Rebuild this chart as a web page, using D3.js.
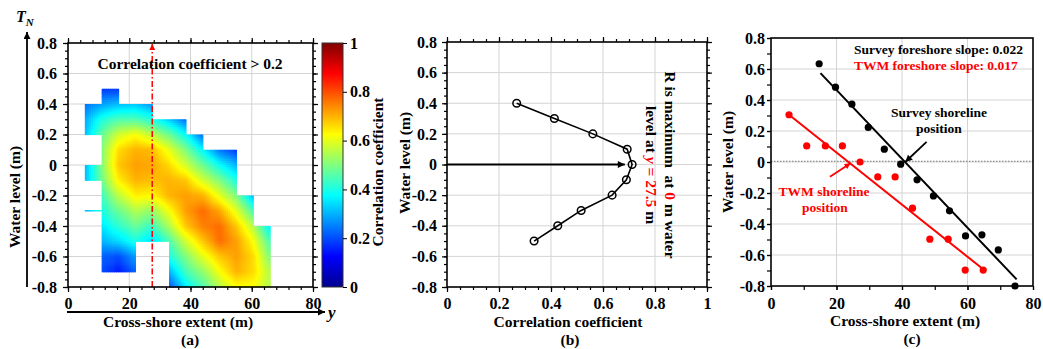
<!DOCTYPE html>
<html><head><meta charset="utf-8">
<script src="https://cdn.jsdelivr.net/npm/d3@7"></script>
<style>
body{margin:0;background:#fff;}
svg{display:block;font-family:"Liberation Serif","Times New Roman",serif;font-weight:bold;}
</style></head><body>
<svg id="chart" width="1043" height="349"></svg>
<script>
// ---------------- DATA ----------------
// (a) correlation map: node positions and values (null = no data)
const gridX = [5.5, 11, 16.5, 22, 27.5, 33, 38.5, 44, 49.5, 55, 60.5, 66];
const gridY = [0.5, 0.4, 0.3, 0.2, 0.1, 0, -0.1, -0.2, -0.3, -0.4, -0.5, -0.6, -0.7, -0.8];
const N = null;
const gridR = [
  [N,    0.18, 0.18, N,    N,    N,    N,    N,    N,    N,    N,    N   ],
  [0.24, 0.28, 0.31, 0.32, 0.27, N,    N,    N,    N,    N,    N,    N   ],
  [0.29, 0.40, 0.45, 0.45, 0.41, 0.32, 0.23, N,    N,    N,    N,    N   ],
  [0.31, 0.47, 0.58, 0.62, 0.56, 0.48, 0.38, 0.23, N,    N,    N,    N   ],
  [N,    0.50, 0.66, 0.70, 0.69, 0.60, 0.50, 0.37, 0.24, 0.18, N,    N   ],
  [0.30, 0.50, 0.68, 0.72, 0.71, 0.66, 0.58, 0.48, 0.38, 0.30, N,    N   ],
  [0.31, 0.48, 0.64, 0.70, 0.69, 0.70, 0.68, 0.58, 0.50, 0.40, N,    N   ],
  [N,    0.43, 0.56, 0.64, 0.63, 0.70, 0.72, 0.70, 0.60, 0.50, 0.30, N   ],
  [0.30, 0.40, 0.48, 0.55, 0.52, 0.62, 0.72, 0.77, 0.71, 0.60, 0.44, N   ],
  [N,    0.35, 0.42, 0.48, 0.43, 0.55, 0.68, 0.75, 0.77, 0.68, 0.55, 0.36],
  [N,    0.30, 0.34, 0.40, 0.34, 0.45, 0.58, 0.68, 0.77, 0.72, 0.62, 0.45],
  [N,    0.22, 0.20, 0.28, N,    0.40, 0.50, 0.60, 0.68, 0.72, 0.66, 0.50],
  [N,    0.20, 0.15, 0.22, N,    0.30, 0.44, 0.52, 0.62, 0.70, 0.66, 0.55],
  [N,    N,    N,    N,    N,    0.20, 0.36, 0.45, 0.55, 0.62, 0.62, 0.55]
];
const strayLineY = -0.3;            // thin isolated contour strip at left
const strayLineX = [5.5, 11];
const strayLineR = [0.30, 0.40];
const markerY = 27.5;               // cross-shore position of max R

// (b) correlation profile at y = 27.5 m
const profileLevel = [0.4, 0.3, 0.2, 0.1, 0, -0.1, -0.2, -0.3, -0.4, -0.5];
const profileR     = [0.268, 0.413, 0.561, 0.693, 0.712, 0.690, 0.635, 0.516, 0.426, 0.335];
const arrowToR = 0.684;

// (c) shoreline data
const surveyX = [14.7, 19.7, 24.7, 29.7, 34.6, 39.6, 44.6, 49.6, 54.5, 59.4, 64.4, 69.4, 74.5];
const surveyY = [0.634, 0.483, 0.373, 0.223, 0.083, -0.014, -0.115, -0.219, -0.315, -0.477, -0.47, -0.567, -0.8];
const twmX = [5.5, 10.9, 16.6, 21.8, 27.2, 32.6, 37.9, 43.2, 48.5, 54.1, 59.3, 64.8];
const twmY = [0.305, 0.104, 0.104, 0.104, 0.0, -0.096, -0.096, -0.298, -0.498, -0.498, -0.697, -0.697];
const surveyFitX = [15.1, 75], surveyFitY = [0.573, -0.757];
const twmFitX = [5.5, 64.8],   twmFitY = [0.305, -0.692];

// ticks
const levelTicks = [-0.8, -0.6, -0.4, -0.2, 0, 0.2, 0.4, 0.6, 0.8];
const extentTicks = [0, 20, 40, 60, 80];
const rTicks = [0, 0.2, 0.4, 0.6, 0.8, 1];

// ---------------- DRAW ----------------
const svg = d3.select("#chart");
const RED = "#ff0000", GRID = "#d4d4d4";
const jet = d3.scaleLinear()
  .domain([0, 0.125, 0.375, 0.625, 0.875, 1])
  .range(["#00008f", "#0000ff", "#00ffff", "#ffff00", "#ff0000", "#800000"]).clamp(true);

const defs = svg.append("defs");
function arrowMarker(id, color, w, h) {
  defs.append("marker").attr("id", id).attr("viewBox", "0 0 10 10")
    .attr("refX", 10).attr("refY", 5).attr("markerUnits", "userSpaceOnUse")
    .attr("markerWidth", w).attr("markerHeight", h).attr("orient", "auto")
    .append("path").attr("d", "M0,0 L10,5 L0,10 z").attr("fill", color);
}
arrowMarker("arrK", "#000", 9, 7);
arrowMarker("arrR", RED, 8, 6);
arrowMarker("arrRs", RED, 7, 6);

const fmt = d => String(+(+d).toFixed(2));
const rng = (a, b, s) => d3.range(Math.round(a / s), Math.round(b / s) + 1).map(k => +(k * s).toFixed(4));

function styleText(sel, size) {
  sel.selectAll("text").attr("font-size", size).attr("font-family", '"Liberation Serif","Times New Roman",serif')
    .attr("font-weight", "bold").attr("fill", "#000");
}

function gridlines(x, y, xv, yv) {
  const g = svg.append("g").attr("stroke", GRID).attr("stroke-width", 1);
  const [xa, xb] = x.range(), [ya, yb] = y.range();
  g.selectAll(".gx").data(xv).join("line").attr("x1", d => x(d)).attr("x2", d => x(d)).attr("y1", ya).attr("y2", yb);
  g.selectAll(".gy").data(yv).join("line").attr("y1", d => y(d)).attr("y2", d => y(d)).attr("x1", xa).attr("x2", xb);
}

function axes(x, y, o) {
  const [xa, xb] = x.range(), [ya, yb] = y.range();
  const g = svg.append("g");
  const add = (axis, tr) => { const s = g.append("g").attr("transform", tr).call(axis); s.select(".domain").remove(); s.selectAll("line").attr("stroke-width", 1.2); return s; };
  add(d3.axisBottom(x).tickValues(o.xMajor).tickFormat(fmt).tickSize(o.tl).tickPadding(o.xpad), `translate(0,${ya})`);
  add(d3.axisBottom(x).tickValues(o.xMinor).tickFormat("").tickSize(o.tm), `translate(0,${ya})`);
  add(d3.axisLeft(y).tickValues(o.yMajor).tickFormat(fmt).tickSize(o.tl).tickPadding(o.ypad), `translate(${xa},0)`);
  add(d3.axisLeft(y).tickValues(o.yMinor).tickFormat("").tickSize(o.tm), `translate(${xa},0)`);
  if (o.mirror) {
    add(d3.axisTop(x).tickValues(o.xMajor).tickFormat("").tickSize(o.tl), `translate(0,${yb})`);
    add(d3.axisTop(x).tickValues(o.xMinor).tickFormat("").tickSize(o.tm), `translate(0,${yb})`);
    add(d3.axisRight(y).tickValues(o.yMajor).tickFormat("").tickSize(o.tl), `translate(${xb},0)`);
    add(d3.axisRight(y).tickValues(o.yMinor).tickFormat("").tickSize(o.tm), `translate(${xb},0)`);
  }
  g.append("rect").attr("x", xa).attr("y", yb).attr("width", xb - xa).attr("height", ya - yb)
    .attr("fill", "none").attr("stroke", "#000").attr("stroke-width", 1.6);
  styleText(g, 16);
}

function label(txt, x, y, size, rot, anchor) {
  return svg.append("text").attr("font-size", size).attr("text-anchor", anchor || "middle")
    .attr("transform", `translate(${x},${y})` + (rot ? ` rotate(${rot})` : ""))
    .attr("dy", rot ? "0.35em" : 0).text(txt);
}

// ===== Panel (a) =====
const xA = d3.scaleLinear().domain([0, 80]).range([68, 313]);
const yA = d3.scaleLinear().domain([-0.8, 0.8]).range([287, 43]);
gridlines(xA, yA, [20, 40, 60], levelTicks.filter(d => Math.abs(d) < 0.8));

const S = 8, subs = [];
for (let j = 0; j < gridY.length - 1; j++) for (let i = 0; i < gridX.length - 1; i++) {
  const v00 = gridR[j][i], v10 = gridR[j][i + 1], v01 = gridR[j + 1][i], v11 = gridR[j + 1][i + 1];
  if ([v00, v10, v01, v11].some(v => v == null)) continue;
  for (let a = 0; a < S; a++) for (let b = 0; b < S; b++) {
    const u = (a + 0.5) / S, w = (b + 0.5) / S;
    subs.push({
      x0: gridX[i] + (gridX[i + 1] - gridX[i]) * a / S,
      x1: gridX[i] + (gridX[i + 1] - gridX[i]) * (a + 1) / S,
      y0: gridY[j] + (gridY[j + 1] - gridY[j]) * b / S,
      y1: gridY[j] + (gridY[j + 1] - gridY[j]) * (b + 1) / S,
      v: v00 * (1 - u) * (1 - w) + v10 * u * (1 - w) + v01 * (1 - u) * w + v11 * u * w
    });
  }
}
svg.append("g").selectAll("rect").data(subs).join("rect")
  .attr("x", d => xA(d.x0)).attr("y", d => yA(d.y0))
  .attr("width", d => xA(d.x1) - xA(d.x0) + 0.6).attr("height", d => yA(d.y1) - yA(d.y0) + 0.6)
  .attr("fill", d => jet(d.v));
// stray strip
const strayN = 8;
svg.append("g").selectAll("line").data(d3.range(strayN)).join("line")
  .attr("x1", k => xA(strayLineX[0] + (strayLineX[1] - strayLineX[0]) * k / strayN))
  .attr("x2", k => xA(strayLineX[0] + (strayLineX[1] - strayLineX[0]) * (k + 1) / strayN) + 0.5)
  .attr("y1", yA(strayLineY)).attr("y2", yA(strayLineY)).attr("stroke-width", 1.5)
  .attr("stroke", k => jet(strayLineR[0] + (strayLineR[1] - strayLineR[0]) * (k + 0.5) / strayN));

// red dash-dot marker line
svg.append("line").attr("x1", xA(markerY)).attr("x2", xA(markerY)).attr("y1", yA(-0.8)).attr("y2", yA(0.8) + 1)
  .attr("stroke", RED).attr("stroke-width", 1.5).attr("stroke-dasharray", "6,2.5,1.5,2.5").attr("marker-end", "url(#arrRs)");

axes(xA, yA, { xMajor: extentTicks, xMinor: rng(0, 80, 4), yMajor: levelTicks, yMinor: rng(-0.8, 0.8, 0.05), tl: 5, tm: 3, xpad: 6, ypad: 6, mirror: true });

label("Correlation coefficient > 0.2", 190, 69, 15.5);
label("Cross-shore extent (m)", 178, 327, 15.5);
label("(a)", 190, 345, 15.5);
label("Water level (m)", 15, 197, 15.5, -90);
// outer arrows
svg.append("line").attr("x1", 27).attr("x2", 27).attr("y1", 287).attr("y2", 32).attr("stroke", "#000").attr("stroke-width", 1.8).attr("marker-end", "url(#arrK)");
svg.append("line").attr("x1", 67).attr("x2", 325).attr("y1", 312).attr("y2", 312).attr("stroke", "#000").attr("stroke-width", 1.8).attr("marker-end", "url(#arrK)");
svg.append("text").attr("x", 328).attr("y", 318).attr("font-size", 17).attr("font-style", "italic").text("y");
const tn = svg.append("text").attr("x", 16).attr("y", 22).attr("font-size", 16).attr("font-style", "italic");
tn.append("tspan").text("T");
tn.append("tspan").attr("font-size", 11).attr("dy", 4).text("N");

// colorbar
const cb = d3.scaleLinear().domain([0, 1]).range([287, 43]);
const grad = defs.append("linearGradient").attr("id", "jetGrad").attr("x1", 0).attr("x2", 0).attr("y1", 1).attr("y2", 0);
grad.selectAll("stop").data(d3.range(0, 1.0001, 0.025)).join("stop")
  .attr("offset", d => d).attr("stop-color", d => jet(d));
svg.append("rect").attr("x", 322).attr("y", cb(1)).attr("width", 21).attr("height", cb(0) - cb(1))
  .attr("fill", "url(#jetGrad)").attr("stroke", "#333").attr("stroke-width", 1);
const cbAxis = svg.append("g").attr("transform", "translate(343,0)")
  .call(d3.axisRight(cb).tickValues(rTicks).tickFormat(fmt).tickSize(4).tickPadding(3));
cbAxis.select(".domain").remove();
styleText(cbAxis, 16);
label("Correlation coefficient", 378, 172, 15.5, -90);

// ===== Panel (b) =====
const xB = d3.scaleLinear().domain([0, 1]).range([447, 707]);
const yB = d3.scaleLinear().domain([-0.8, 0.8]).range([287, 42]);
gridlines(xB, yB, [0.2, 0.4, 0.6, 0.8], levelTicks.filter(d => Math.abs(d) < 0.8));
svg.append("line").attr("x1", xB(0)).attr("x2", xB(arrowToR)).attr("y1", yB(0)).attr("y2", yB(0))
  .attr("stroke", "#000").attr("stroke-width", 2).attr("marker-end", "url(#arrK)");
svg.append("path").datum(profileLevel.map((l, i) => [profileR[i], l]))
  .attr("d", d3.line().x(d => xB(d[0])).y(d => yB(d[1])))
  .attr("fill", "none").attr("stroke", "#000").attr("stroke-width", 1.6);
svg.append("g").selectAll("circle").data(profileLevel.map((l, i) => [profileR[i], l])).join("circle")
  .attr("cx", d => xB(d[0])).attr("cy", d => yB(d[1])).attr("r", 3.8)
  .attr("fill", "none").attr("stroke", "#000").attr("stroke-width", 1.5);
axes(xB, yB, { xMajor: rTicks, xMinor: rng(0, 1, 0.05), yMajor: levelTicks, yMinor: rng(-0.8, 0.8, 0.05), tl: 5, tm: 3, xpad: 6, ypad: 5, mirror: true });
label("Correlation coefficient", 568, 327, 15.5);
label("(b)", 570, 345, 15.5);
label("Water level (m)", 405, 163, 15.5, -90);
const t1 = svg.append("text").attr("font-size", 15.5).attr("text-anchor", "middle").attr("dy", "0.35em")
  .attr("transform", "translate(670,165) rotate(90)").attr("xml:space", "preserve");
t1.append("tspan").text("R is maximum  at ");
t1.append("tspan").attr("fill", RED).text("0");
t1.append("tspan").text(" m water");
const t2 = svg.append("text").attr("font-size", 15.5).attr("text-anchor", "middle").attr("dy", "0.35em")
  .attr("transform", "translate(651,165) rotate(90)").attr("xml:space", "preserve");
t2.append("tspan").text("level at ");
t2.append("tspan").attr("fill", RED).attr("font-style", "italic").text("y");
t2.append("tspan").attr("fill", RED).text(" = 27.5");
t2.append("tspan").text(" m");

// ===== Panel (c) =====
const xC = d3.scaleLinear().domain([0, 80]).range([771, 1033]);
const yC = d3.scaleLinear().domain([-0.8, 0.8]).range([286, 38]);
gridlines(xC, yC, [20, 40, 60], levelTicks.filter(d => Math.abs(d) < 0.8));
svg.append("line").attr("x1", xC(0)).attr("x2", xC(80)).attr("y1", yC(0.005)).attr("y2", yC(0.005))
  .attr("stroke", "#777").attr("stroke-width", 1.2).attr("stroke-dasharray", "1.5,1.5");
const lineC = d3.line().x(d => xC(d[0])).y(d => yC(d[1]));
svg.append("path").datum(surveyFitX.map((x, i) => [x, surveyFitY[i]])).attr("d", lineC)
  .attr("stroke", "#000").attr("stroke-width", 2).attr("fill", "none");
svg.append("path").datum(twmFitX.map((x, i) => [x, twmFitY[i]])).attr("d", lineC)
  .attr("stroke", RED).attr("stroke-width", 2).attr("fill", "none");
svg.append("g").selectAll("circle").data(twmX.map((x, i) => [x, twmY[i]])).join("circle")
  .attr("cx", d => xC(d[0])).attr("cy", d => yC(d[1])).attr("r", 3.6).attr("fill", RED);
svg.append("g").selectAll("circle").data(surveyX.map((x, i) => [x, surveyY[i]])).join("circle")
  .attr("cx", d => xC(d[0])).attr("cy", d => yC(d[1])).attr("r", 3.6).attr("fill", "#000");
axes(xC, yC, { xMajor: extentTicks, xMinor: rng(0, 80, 10), yMajor: levelTicks, yMinor: rng(-0.8, 0.8, 0.1), tl: 4, tm: 4, xpad: 8, ypad: 2, mirror: false });
// annotation arrows
svg.append("line").attr("x1", xC(47.5)).attr("y1", yC(0.13)).attr("x2", xC(41)).attr("y2", yC(0.0))
  .attr("stroke", "#000").attr("stroke-width", 1.8).attr("marker-end", "url(#arrK)");
svg.append("line").attr("x1", xC(18)).attr("y1", yC(-0.095)).attr("x2", xC(24.3)).attr("y2", yC(-0.008))
  .attr("stroke", RED).attr("stroke-width", 1.8).attr("marker-end", "url(#arrR)");
label("Survey shoreline", 939, 117, 13.5);
label("position", 939, 133, 13.5);
label("TWM shoreline", 824, 196, 13.5).attr("fill", RED);
label("position", 825, 212, 13.5).attr("fill", RED);
label("Survey foreshore slope: 0.022", 854, 54, 13.5, 0, "start");
label("TWM foreshore slope: 0.017", 854, 70, 13.5, 0, "start").attr("fill", RED);
label("Water level (m)", 728, 162, 15.5, -90);
label("Cross-shore extent (m)", 905, 326, 15.5);
label("(c)", 912, 344, 15.5);
</script>
</body></html>
